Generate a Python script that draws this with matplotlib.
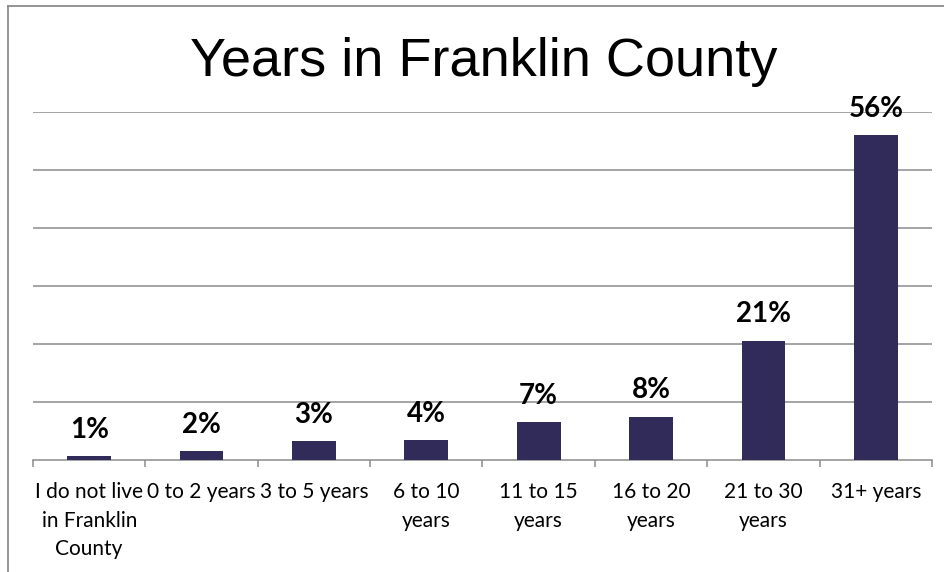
import matplotlib.pyplot as plt
from matplotlib.lines import Line2D

# Datos
categories = ["I do not live\nin Franklin\nCounty", "0 to 2 years", "3 to 5 years",
              "6 to 10\nyears", "11 to 15\nyears", "16 to 20\nyears",
              "21 to 30\nyears", "31+ years"]
percent = [0.7, 1.5, 3.3, 3.5, 6.5, 7.5, 20.6, 56.0]
labels = ["1%", "2%", "3%", "4%", "7%", "8%", "21%", "56%"]

bar_color = "#312B5A"
grid_color = "#8C8C8C"

fig = plt.figure(figsize=(9.45, 5.72), dpi=100)
ax = fig.add_axes([33 / 945, 1 - 460 / 572, (932 - 33) / 945, (460 - 112) / 572])

x = list(range(len(categories)))
ax.bar(x, percent, width=0.39, color=bar_color, zorder=3)

for xi, v, lab in zip(x, percent, labels):
    ax.annotate(lab, (xi, v), xytext=(0, 13), textcoords="offset points",
                ha="center", va="baseline", fontsize=20, fontweight="bold",
                family="Lato")

ax.set_xlim(-0.5, len(categories) - 0.5)
ax.set_ylim(0, 60)
ax.set_yticks([10, 20, 30, 40, 50, 60])
ax.yaxis.grid(True, color=grid_color, linewidth=1.1)
ax.tick_params(axis="y", left=False, labelleft=False)

ax.set_xticks(x)
ax.set_xticklabels(categories, family="Lato", fontsize=15, linespacing=1.52)
ax.set_xticks([i - 0.5 for i in range(len(categories) + 1)], minor=True)
ax.tick_params(axis="x", which="major", length=0, pad=16)
ax.tick_params(axis="x", which="minor", length=5, color=grid_color, width=1.1)

for s in ["top", "right", "left"]:
    ax.spines[s].set_visible(False)
ax.spines["bottom"].set_color(grid_color)
ax.spines["bottom"].set_linewidth(1.1)

fig.text(484 / 945, 1 - 62 / 572, "Years in Franklin County", ha="center",
         va="center", fontsize=39, family="Liberation Sans")

# Borde del grafico (izquierda y arriba)
fig.add_artist(Line2D([8 / 945, 8 / 945], [0, 1 - 6 / 572], transform=fig.transFigure,
                      color=grid_color, linewidth=1.3))
fig.add_artist(Line2D([8 / 945, 1], [1 - 6 / 572, 1 - 6 / 572], transform=fig.transFigure,
                      color=grid_color, linewidth=1.3))

fig.savefig("out.png", dpi=100)
